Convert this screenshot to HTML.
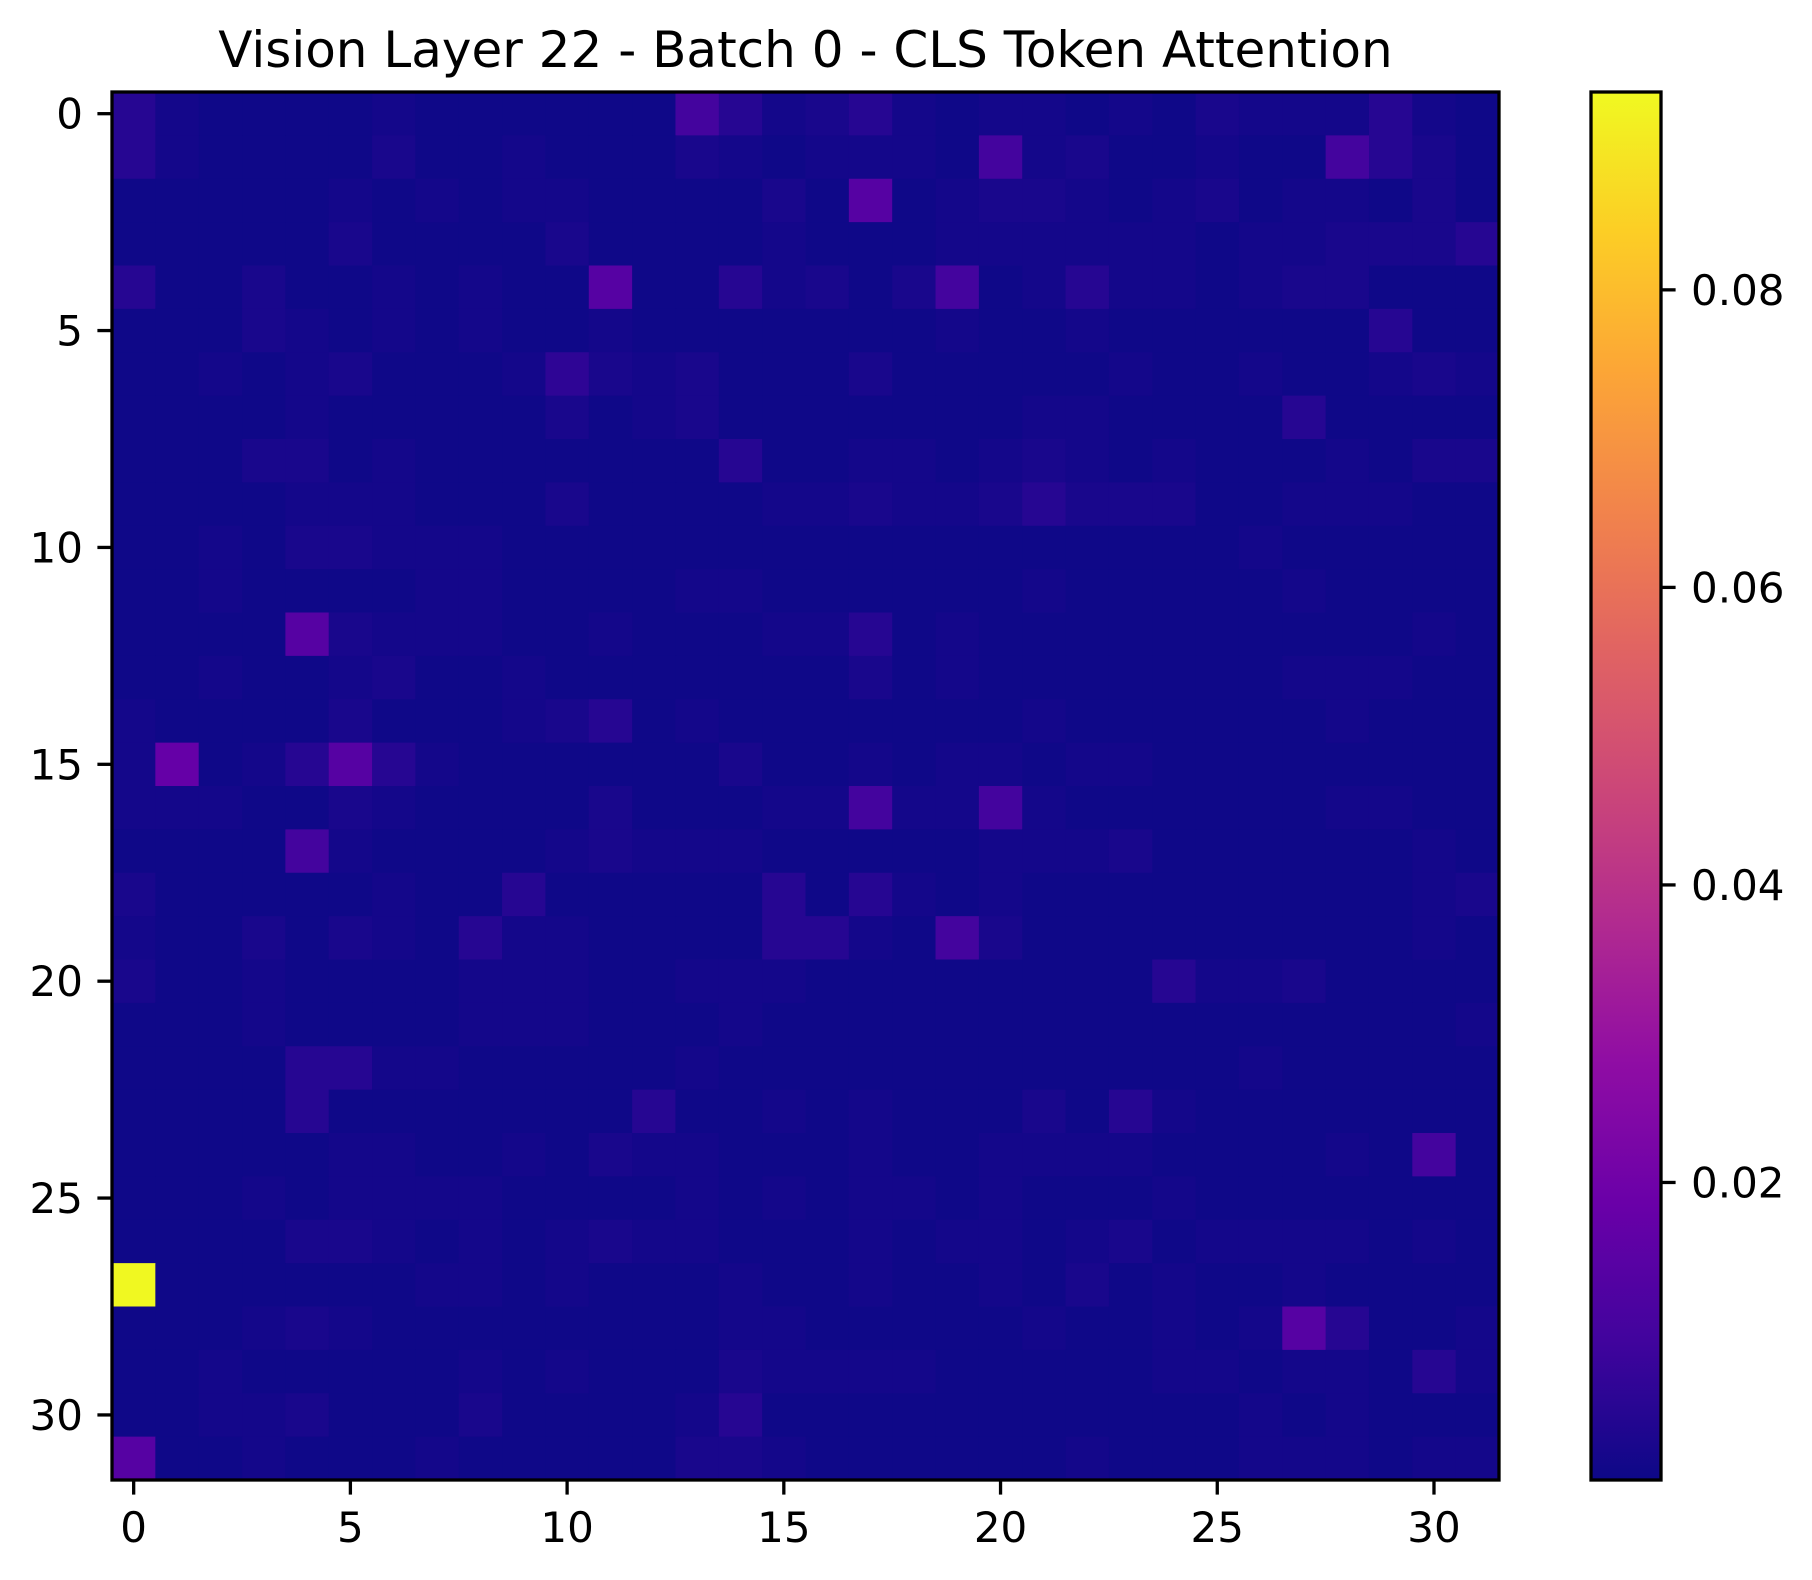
<!DOCTYPE html>
<html><head><meta charset="utf-8"><style>
html,body{margin:0;padding:0;background:#fff;}
svg{display:block;font-family:"DejaVu Sans","Liberation Sans",sans-serif;}
</style></head><body>
<svg id="chart" width="1812" height="1580" viewBox="0 0 1812 1580" xmlns="http://www.w3.org/2000/svg">
<text x="805.5" y="67" text-anchor="middle" font-size="50" fill="#000">Vision Layer 22 - Batch 0 - CLS Token Attention</text>
<g id="cells"></g>
<rect x="112" y="92" width="1387" height="1388" fill="none" stroke="#000" stroke-width="3.3"/>
<g id="xticks"></g>
<g id="yticks"></g>
<defs><linearGradient id="cbg" x1="0" y1="1" x2="0" y2="0"></linearGradient></defs>
<rect x="1591" y="92" width="70" height="1388" fill="url(#cbg)" stroke="#000" stroke-width="3.3"/>
<g id="cticks"></g>
</svg>
<script>
// values in units of 1e-4 (attention weights)
const rowsTop = [
[45,12,3,3,3,3,12,3,3,3,3,3,3,100,45,12, 22,45,12,3,12,12,3,12,3,22,12,12,12,45,12,3],
[45,12,3,3,3,3,22,3,3,12,3,3,3,22,12,3, 12,12,12,3,100,12,22,3,3,12,3,3,100,45,22,3],
[3,3,3,3,3,12,3,12,3,12,12,3,3,3,3,22, 3,140,3,12,22,22,12,3,12,22,3,12,12,3,22,3],
[3,3,3,3,3,22,3,3,3,3,22,3,3,3,3,12, 3,3,3,12,12,12,12,12,12,3,12,12,22,22,22,45],
[45,3,3,22,3,3,12,3,12,3,3,140,3,3,45,12, 22,3,22,100,3,12,45,12,12,3,12,22,22,3,3,3],
[3,3,3,22,12,3,12,3,12,3,3,12,3,3,3,3, 3,3,3,12,3,3,12,3,3,3,3,3,3,45,3,3],
[3,3,12,3,12,22,3,3,3,12,60,22,12,22,3,3, 3,22,3,3,3,3,3,12,3,3,12,3,3,12,22,12],
[3,3,3,3,12,3,3,3,3,3,22,3,12,22,3,3, 3,3,3,3,3,12,12,3,3,3,3,45,3,3,3,3],
[3,3,3,22,22,3,12,3,3,3,3,3,3,3,45,3, 3,12,12,3,12,22,12,3,12,3,3,3,12,3,22,22],
[3,3,3,3,12,12,12,3,3,3,22,3,3,3,3,12, 12,22,12,12,22,45,22,22,22,3,3,12,12,12,3,3],
[3,3,12,3,22,22,12,12,12,3,3,3,3,3,3,3, 3,3,3,3,3,3,3,3,3,3,12,3,3,3,3,3],
[3,3,12,3,3,3,3,12,12,3,3,3,3,12,12,3, 3,3,3,3,3,12,3,3,3,3,3,12,3,3,3,3],
[3,3,3,3,140,22,12,12,12,3,3,12,3,3,3,12, 12,45,3,12,3,3,3,3,3,3,3,3,3,3,12,3],
[3,3,12,3,3,12,22,3,3,12,3,3,3,3,3,3, 3,22,3,12,3,3,3,3,3,3,3,12,12,12,3,3],
[12,3,3,3,3,22,3,3,3,12,22,45,3,12,3,3, 3,3,3,3,3,12,3,3,3,3,3,3,12,3,3,3],
[12,175,3,12,45,140,45,12,3,3,3,3,3,3,22,3, 3,12,3,12,12,3,12,12,3,3,3,3,3,3,3,3]
];
const rowsBottom = [
[12,12,12,3,3,22,12,3,3,3,3,22,3,3,3,12, 12,100,12,12,100,12,3,3,3,3,3,3,12,12,3,3],
[3,3,3,3,100,12,3,3,3,3,12,22,12,12,12,3, 3,3,3,3,12,12,12,22,3,3,3,3,3,3,12,3],
[22,3,3,3,3,3,12,3,3,45,3,3,3,3,3,45, 3,45,12,3,12,3,3,3,3,3,3,3,3,3,12,22],
[12,3,3,22,3,22,12,3,45,12,12,3,3,3,3,45, 45,12,3,100,22,3,3,3,3,3,3,3,3,3,12,3],
[22,3,3,12,3,3,3,3,12,12,12,3,3,12,12,12, 3,3,3,3,3,3,3,3,45,12,12,22,3,3,3,3],
[3,3,3,12,3,3,3,3,12,12,12,3,3,3,12,3, 3,3,3,3,3,3,3,3,3,3,3,3,3,3,3,12],
[3,3,3,3,45,45,12,12,3,3,3,3,3,12,3,3, 3,3,3,3,3,3,3,3,3,3,12,3,3,3,3,3],
[3,3,3,3,45,3,3,3,3,3,3,3,45,3,3,12, 3,12,3,3,3,22,3,45,12,3,3,3,3,3,3,3],
[3,3,3,3,3,12,12,3,3,12,3,22,12,12,3,3, 3,12,3,3,12,12,12,12,3,3,3,3,12,3,100,3],
[3,3,3,12,3,12,12,12,12,3,3,3,3,12,3,12, 3,12,12,3,12,3,3,3,12,3,3,3,3,3,3,3],
[3,3,3,3,22,22,12,3,12,3,12,22,12,12,3,3, 3,12,3,12,12,3,12,22,3,12,12,12,12,3,12,3],
[930,3,3,3,3,3,3,12,12,3,12,3,3,3,12,3, 3,12,3,3,12,3,22,3,12,3,3,12,3,3,3,3],
[3,3,3,12,22,12,3,3,3,3,3,3,3,3,12,12, 3,3,3,3,3,12,3,3,12,3,12,140,45,3,3,12],
[3,3,12,3,3,3,3,3,12,3,12,3,3,3,22,12, 12,12,12,3,3,3,3,3,12,12,3,12,12,3,45,12],
[3,3,12,12,22,3,3,3,22,3,3,3,3,12,45,3, 3,3,3,3,3,3,3,3,3,3,12,3,12,3,3,3],
[140,3,3,12,3,3,3,12,3,3,3,3,3,22,22,12, 3,3,3,3,3,3,12,3,3,3,12,12,12,3,12,12]
];
const xTickLabels = ["0","5","10","15","20","25","30"];
const yTickLabels = ["0","5","10","15","20","25","30"];
const cbarTickValues = [0.02,0.04,0.06,0.08];
const cbarTickLabels = ["0.02","0.04","0.06","0.08"];
const vMin = 0.0;
const vMax = 0.0933;

const NS = "http://www.w3.org/2000/svg";
const PL = 112, PT = 92, PW = 1387, PH = 1388, N = 32;
const cw = PW / N, ch = PH / N;
const CBX = 1591, CBW = 70;
function xPos(i){ return PL + (i + 0.5) * cw; }
function yPos(i){ return PT + (i + 0.5) * ch; }
function cbY(v){ return PT + PH - (v - vMin) / (vMax - vMin) * PH; }
const stops = [[0,[13,8,135]],[0.1,[65,4,157]],[0.2,[106,0,168]],[0.3,[143,13,164]],[0.4,[177,42,144]],[0.5,[204,71,120]],[0.6,[225,100,98]],[0.7,[242,132,75]],[0.8,[252,166,54]],[0.9,[252,206,37]],[1,[240,249,33]]];
function plasma(t){
  t = Math.max(0, Math.min(1, t));
  for (let k = 1; k < stops.length; k++) {
    if (t <= stops[k][0]) {
      const a = stops[k-1], b = stops[k], f = (t - a[0]) / (b[0] - a[0]);
      const c = a[1].map((v, j) => Math.round(v + (b[1][j] - v) * f));
      return "rgb(" + c.join(",") + ")";
    }
  }
  return "rgb(240,249,33)";
}
const data = rowsTop.concat(rowsBottom);
const cells = document.getElementById("cells");
data.forEach((row, r) => row.forEach((v, c) => {
  const el = document.createElementNS(NS, "rect");
  
  
  el.setAttribute("x", (xPos(c) - cw / 2).toFixed(2));
  el.setAttribute("y", (yPos(r) - ch / 2).toFixed(2));
  el.setAttribute("width", (cw + 0.6).toFixed(2));
  el.setAttribute("height", (ch + 0.6).toFixed(2));
  el.setAttribute("fill", plasma((v / 10000 - vMin) / (vMax - vMin)));
  cells.appendChild(el);
}));
const xt = document.getElementById("xticks");
xTickLabels.forEach(lbl => {
  const i = +lbl, x = xPos(i);
  const ln = document.createElementNS(NS, "line");
  
  
  ln.setAttribute("x1", x); ln.setAttribute("x2", x);
  ln.setAttribute("y1", PT + PH); ln.setAttribute("y2", PT + PH + 14.6);
  ln.setAttribute("stroke", "#000"); ln.setAttribute("stroke-width", "3.3");
  xt.appendChild(ln);
  const t = document.createElementNS(NS, "text");
  
  
  t.setAttribute("x", x); t.setAttribute("y", 1542);
  t.setAttribute("text-anchor", "middle"); t.setAttribute("font-size", "42");
  t.textContent = lbl;
  xt.appendChild(t);
});
const yt = document.getElementById("yticks");
yTickLabels.forEach(lbl => {
  const i = +lbl, y = yPos(i);
  const ln = document.createElementNS(NS, "line");
  
  
  ln.setAttribute("x1", PL - 14.6); ln.setAttribute("x2", PL);
  ln.setAttribute("y1", y); ln.setAttribute("y2", y);
  ln.setAttribute("stroke", "#000"); ln.setAttribute("stroke-width", "3.3");
  yt.appendChild(ln);
  const t = document.createElementNS(NS, "text");
  
  
  t.setAttribute("x", PL - 29); t.setAttribute("y", y + 15);
  t.setAttribute("text-anchor", "end"); t.setAttribute("font-size", "42");
  t.textContent = lbl;
  yt.appendChild(t);
});
const grad = document.getElementById("cbg");
for (let k = 0; k <= 20; k++) {
  const s = document.createElementNS(NS, "stop");
  s.setAttribute("offset", (k / 20).toFixed(3));
  s.setAttribute("stop-color", plasma(k / 20));
  grad.appendChild(s);
}
const ct = document.getElementById("cticks");
cbarTickValues.forEach((v, k) => {
  const y = cbY(v);
  const ln = document.createElementNS(NS, "line");
  
  
  ln.setAttribute("x1", CBX + CBW); ln.setAttribute("x2", CBX + CBW + 14.6);
  ln.setAttribute("y1", y); ln.setAttribute("y2", y);
  ln.setAttribute("stroke", "#000"); ln.setAttribute("stroke-width", "3.3");
  ct.appendChild(ln);
  const t = document.createElementNS(NS, "text");
  
  
  t.setAttribute("x", CBX + CBW + 30); t.setAttribute("y", y + 15);
  t.setAttribute("font-size", "42");
  t.textContent = cbarTickLabels[k];
  ct.appendChild(t);
});
</script>
</body></html>
